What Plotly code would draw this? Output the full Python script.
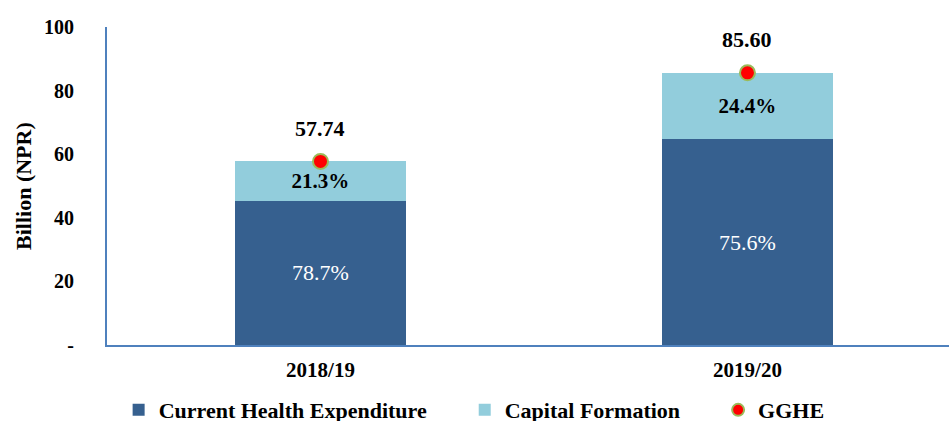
import plotly.graph_objects as go

years = ["2018/19", "2019/20"]
total_gghe = [57.74, 85.60]
che_share = [78.7, 75.6]
cap_share = [21.3, 24.4]
che_values = [t * s / 100 for t, s in zip(total_gghe, che_share)]
cap_values = [t * s / 100 for t, s in zip(total_gghe, cap_share)]
y_ticks = [0, 20, 40, 60, 80, 100]
y_tick_labels = ["-", "20", "40", "60", "80", "100"]

FONT = "Palatino Linotype, Book Antiqua, Palatino, Liberation Serif, serif"
PAD = "\u00a0" * 6

fig = go.Figure()
fig.add_trace(go.Bar(
    x=years, y=che_values, name="<b>Current Health Expenditure</b>" + PAD,
    marker=dict(color="#36608F", line=dict(width=0)),
    text=[f"{s:.1f}%" for s in che_share], textposition="inside",
    insidetextanchor="middle",
    textfont=dict(color="white", size=22, family=FONT),
    width=0.4,
))
fig.add_trace(go.Bar(
    x=years, y=cap_values, name="<b>Capital Formation</b>" + PAD,
    marker=dict(color="#92CDDC", line=dict(width=0)),
    text=[f"<b>{s:.1f}%</b>" for s in cap_share], textposition="inside",
    insidetextanchor="middle",
    textfont=dict(color="black", size=21, family=FONT),
    width=0.4,
))
fig.add_trace(go.Scatter(
    x=years, y=total_gghe, name="<b>GGHE</b>", mode="markers",
    marker=dict(color="#FF0000", size=15, line=dict(color="#9BBB59", width=2)),
))
for yr, t in zip(years, total_gghe):
    fig.add_annotation(x=yr, y=t, text=f"<b>{t:.2f}</b>", showarrow=False,
                       yshift=33, font=dict(size=22, color="black", family=FONT))

# y-axis title as a rotated annotation
fig.add_annotation(xref="paper", yref="paper", x=-0.0998, y=0.5,
                   xanchor="center", yanchor="middle", textangle=-90,
                   text="<b>Billion (NPR)</b>", showarrow=False,
                   font=dict(size=22, color="black", family=FONT))

fig.update_layout(
    barmode="stack",
    width=949, height=421,
    margin=dict(l=107, r=0, t=27, b=76, autoexpand=False),
    paper_bgcolor="white", plot_bgcolor="white",
    font=dict(family=FONT, color="black", size=17),
    showlegend=True,
    legend=dict(orientation="h", xref="container", yref="container",
                x=0.125, xanchor="left", y=0.026, yanchor="middle",
                font=dict(size=22, family=FONT), itemwidth=30,
                itemsizing="constant", traceorder="normal"),
    uniformtext=dict(mode=False),
)
fig.update_xaxes(
    range=[-0.5, 1.472], showline=True, linecolor="#4F81BD", linewidth=2,
    ticks="", tickfont=dict(size=21, family=FONT), automargin=False,
    ticklabelstandoff=5,
    tickprefix="<b>", ticksuffix="</b>", showgrid=False,
)
fig.update_yaxes(
    range=[0, 100], tickvals=y_ticks, ticktext=[f"<b>{t}</b>" for t in y_tick_labels],
    showline=True, linecolor="#4F81BD", linewidth=2, showgrid=False, zeroline=False,
    ticks="", ticklabelstandoff=27, tickfont=dict(size=20, family=FONT), automargin=False,
)
fig.write_html(
    "out.html",
    config={"displayModeBar": False},
    post_script="document.body.style.margin='0';document.body.style.overflow='hidden';",
)
